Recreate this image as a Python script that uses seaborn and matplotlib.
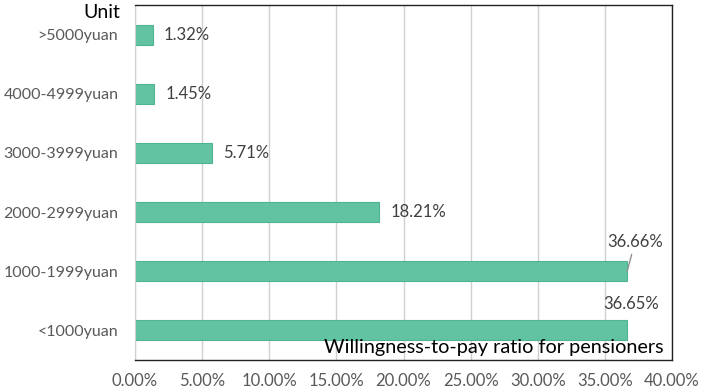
import matplotlib
matplotlib.use("Agg")
import matplotlib.pyplot as plt
import seaborn as sns
import pandas as pd
from matplotlib.ticker import FuncFormatter

categories = [">5000yuan", "4000-4999yuan", "3000-3999yuan", "2000-2999yuan", "1000-1999yuan", "<1000yuan"]
ratios = [1.32, 1.45, 5.71, 18.21, 36.66, 36.65]

sns.set_style("white")
plt.rcParams["font.family"] = ["Lato", "DejaVu Sans"]

BAR = "#62C3A2"
GRAY = "#595959"

df = pd.DataFrame({"cat": categories, "ratio": ratios})

fig = plt.figure(figsize=(7.02, 3.9), dpi=100)
ax = fig.add_axes([135 / 702, 30 / 390, 537 / 702, 355 / 390])

sns.barplot(data=df, x="ratio", y="cat", order=categories, color=BAR,
            width=0.34, edgecolor="#4FB58F", linewidth=0.8, saturation=1, ax=ax)

ax.set_xlim(0, 40)
ax.set_ylim(5.5, -0.5)
ax.set_xticks(range(0, 41, 5))
ax.xaxis.set_major_formatter(FuncFormatter(lambda v, p: f"{v:.2f}%"))
ax.grid(axis="x", color="#D0D0D0", linewidth=1)
ax.set_axisbelow(True)
ax.set_xlabel("")
ax.set_ylabel("")
ax.tick_params(axis="x", length=0, labelsize=12, labelcolor=GRAY, pad=9)
ax.tick_params(axis="y", length=0, labelsize=11.5, labelcolor=GRAY, pad=12)

for s in ["top", "right", "bottom"]:
    ax.spines[s].set_color("#222222")
    ax.spines[s].set_linewidth(1)
ax.spines["left"].set_color("#D0D0D0")

# value labels
for i, v in enumerate(ratios):
    if i < 4:
        ax.annotate(f"{v:.2f}%", (v, i), xytext=(8, 0), textcoords="offset points",
                    ha="left", va="center", fontsize=12, color="#404040")

ax.annotate(f"{ratios[4]:.2f}%", xy=(ratios[4], 4), xytext=(37.25, 3.5),
            ha="center", va="center", fontsize=12, color="#404040", zorder=5,
            arrowprops=dict(arrowstyle="-", color="#909090", lw=1, shrinkA=1, shrinkB=0))
ax.annotate(f"{ratios[5]:.2f}%", (ratios[5], 5), xytext=(3, 13), textcoords="offset points",
            ha="center", va="bottom", fontsize=12, color="#404040")

fig.text(120 / 702, 1 - 13 / 390, "Unit", ha="right", va="center", fontsize=14, color="black")
ax.text(0.985, 0.035, "Willingness-to-pay ratio for pensioners", transform=ax.transAxes,
        ha="right", va="center", fontsize=14.3, color="black")

fig.savefig("out.png", dpi=100)
